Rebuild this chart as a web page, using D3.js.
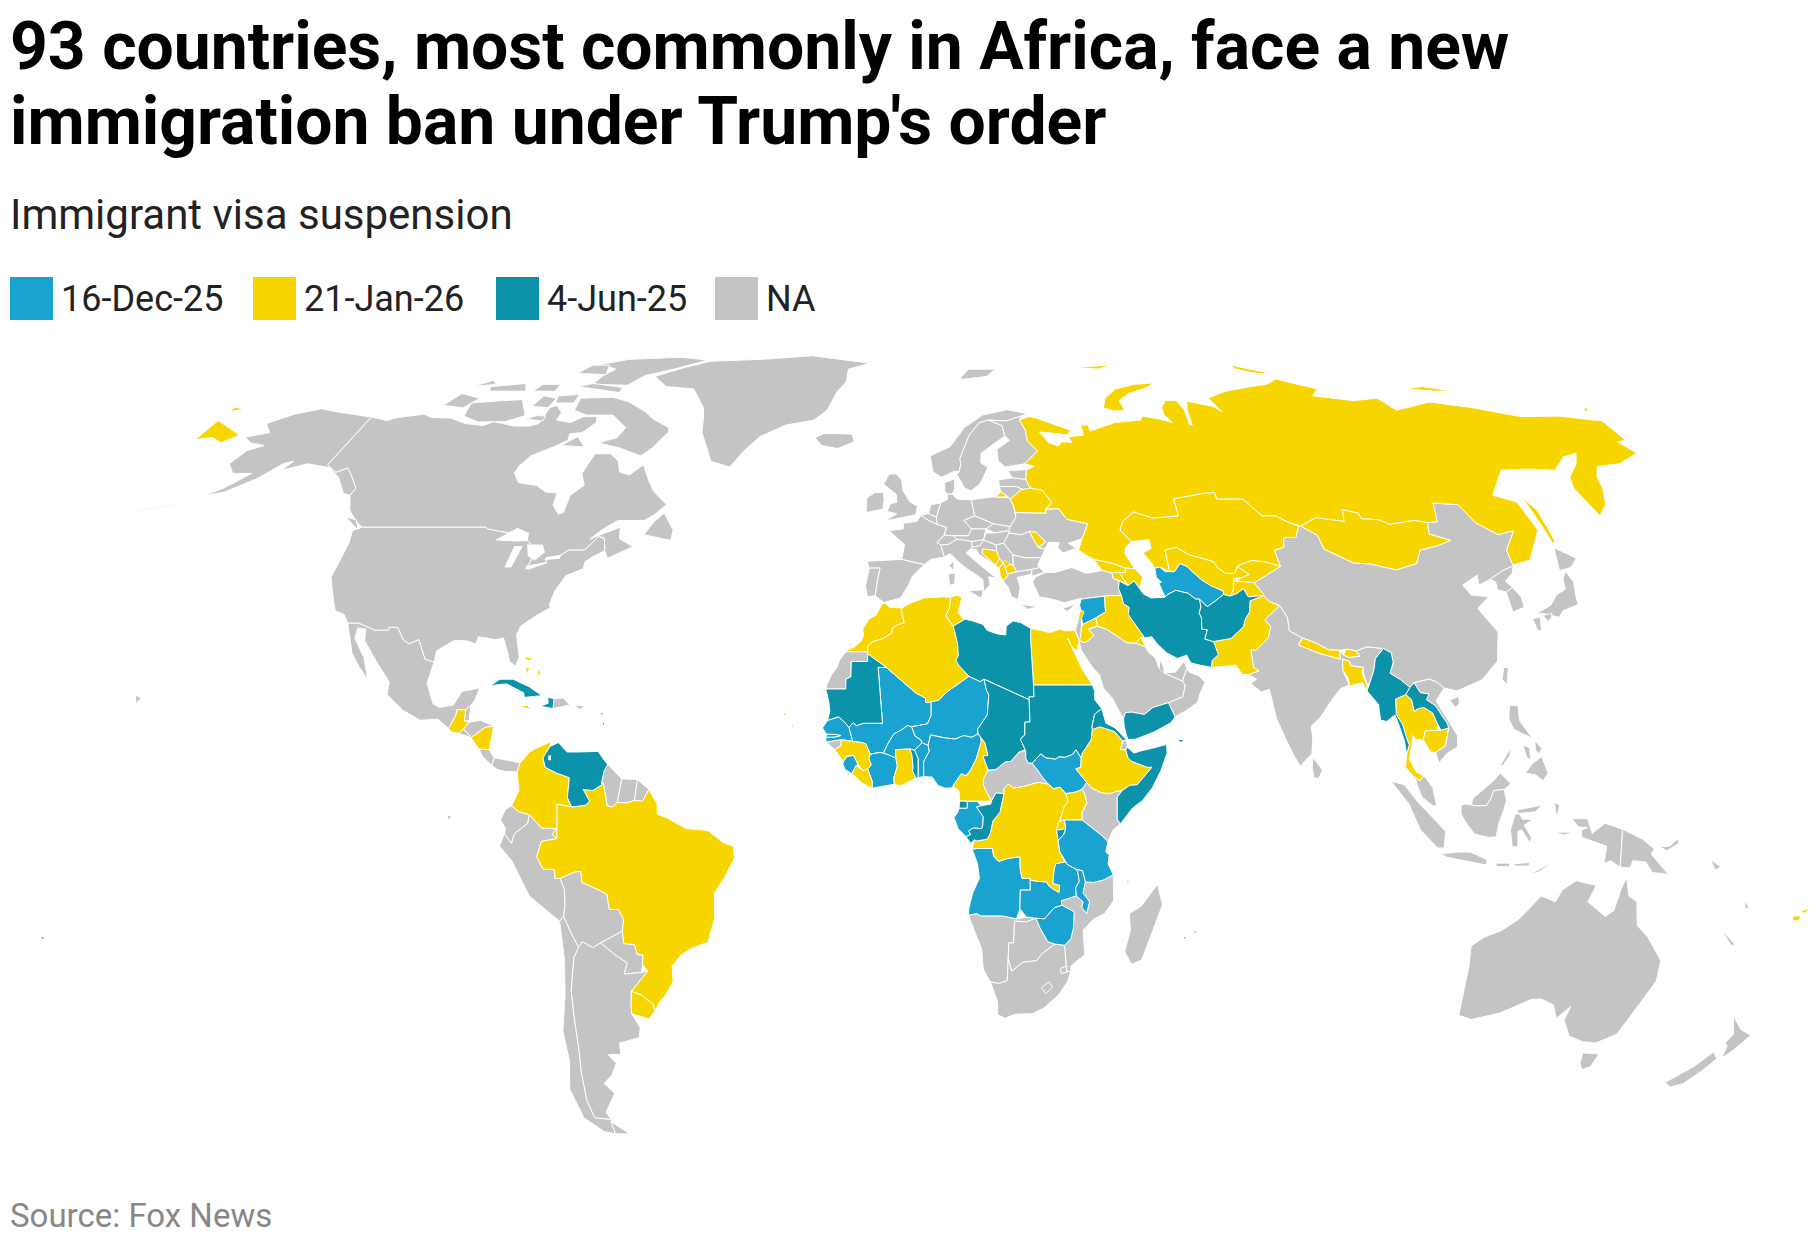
<!DOCTYPE html>
<html>
<head>
<meta charset="utf-8">
<script src="https://cdn.jsdelivr.net/npm/d3@7"></script>
<style>
  body { margin: 0; background: #fff; }
  text { font-family: Roboto, sans-serif; }
</style>
</head>
<body>
<div id="map"></div>
<script>
// legend / categories
var statusKeys = ["16-Dec-25", "21-Jan-26", "4-Jun-25", "NA"];
var statusColors = ["#1AA3D0", "#F7D600", "#0C93A9", "#C4C4C4"];

// outlines are rough [lon, lat] rings, one row per land piece
var shapesDec16 = [
  ["Senegal", [[-17.5,14.7],[-16.5,16],[-14.3,16.6],[-13,15.6],[-12.2,14.8],[-11.4,12.4],[-13.7,12.7],[-16.7,12.3],[-16.8,13.1],[-15,13.15],[-13.8,13.4],[-15,13.6],[-16.6,13.6]]],
  ["Gambia", [[-16.8,13.1],[-15,13.15],[-13.8,13.4],[-15,13.6],[-16.6,13.6]]],
  ["Mali", [[-4.83,25],[1.1,20.7],[3.1,19.8],[3.23,19],[4.25,19.15],[4.25,16.85],[3.5,15.4],[0.3,14.9],[-0.5,15.1],[-2,14.2],[-3.2,13.7],[-4.4,12],[-5.3,10.4],[-6.2,10.5],[-7.9,10.2],[-8.3,11],[-8.8,12],[-9.6,12.2],[-11.4,12.4],[-12.2,14.8],[-11.4,15.6],[-10.7,15.1],[-9.3,15.5],[-5.5,15.5],[-6.5,25]]],
  ["Niger", [[11.97,23.5],[14.2,22.6],[15,23],[15.5,21],[15.9,20.4],[15.5,16.9],[13.5,14.5],[13.6,13.7],[12.3,13.1],[10.7,13.4],[9,12.8],[7,13],[4.1,13.5],[3.6,11.7],[2.4,12.2],[2.1,12.7],[1,13.3],[0.3,14.9],[3.5,15.4],[4.25,16.85],[4.25,19.15],[5.8,19.45],[7.45,20.85]]],
  ["Nigeria", [[2.7,6.4],[4.4,6.3],[5.5,4.9],[7,4.4],[8.5,4.5],[8.5,4.8],[10.2,6.9],[11.1,6.5],[12,7.5],[13.2,9.5],[14.2,12.4],[14.1,13.1],[13.6,13.7],[12.3,13.1],[10.7,13.4],[9,12.8],[7,13],[4.1,13.5],[3.6,11.7],[3.8,10.7],[2.7,9]]],
  ["Benin", [[1.6,6.2],[2.7,6.4],[2.7,9],[3.8,10.7],[3.6,11.7],[2.4,12.2],[0.9,10.9],[1.6,9.5]]],
  ["Burkina Faso", [[-5.3,10.4],[-4.4,12],[-3.2,13.7],[-2,14.2],[-0.5,15.1],[0.3,14.9],[1,13.3],[2.1,12.7],[2.4,12.2],[0.9,10.9],[0,11.1],[-2.9,11],[-2.8,9.5],[-3.7,9.9]]],
  ["Ivory Coast", [[-7.5,4.4],[-3.1,5.1],[-3.2,6.2],[-2.5,8.2],[-2.8,9.5],[-3.7,9.9],[-5.3,10.4],[-6.2,10.5],[-7.9,10.2],[-8.2,9.5],[-7.7,8.4],[-8.4,7.7],[-7.5,5.6]]],
  ["Sierra Leone", [[-13.3,8.5],[-13.2,9],[-12.5,9.9],[-11.2,10],[-10.3,8.5],[-10.7,8.3],[-11.5,6.9],[-12.9,7.6]]],
  ["Gabon", [[11.3,2.2],[13.3,2.2],[14,1.4],[13.2,1.2],[14.5,-0.5],[14.4,-1.9],[14.2,-2.5],[12.5,-2.4],[11.6,-2.9],[12,-3.5],[11.1,-3.9],[9.5,-2.5],[8.7,-0.6],[9.4,0.2],[9.7,1],[11.3,1]]],
  ["Angola", [[12.3,-6],[13.4,-8.5],[13.8,-11],[12.5,-13.5],[11.8,-16],[11.75,-17.3],[13.4,-17],[14.2,-17.4],[18.5,-17.4],[21.4,-17.9],[22,-16.2],[22,-13],[24,-13],[23.9,-11],[22.3,-11],[21.9,-9.5],[21.8,-7.3],[19.4,-7.6],[17.6,-8.1],[16.6,-7.2],[16.3,-5.9],[13.2,-5.9]]],
  ["Zambia", [[22,-13],[22,-16.2],[23.4,-17.6],[25.3,-17.8],[27,-17.9],[28.9,-16],[30.4,-15.6],[30.2,-14.8],[33.2,-14],[33,-12.6],[33.7,-11.5],[33.3,-9.8],[32.9,-9.4],[31.2,-8.6],[30.7,-8.2],[28.9,-8.5],[28.6,-9.6],[28.4,-11.9],[29.8,-12.2],[29.7,-13.4],[28.5,-12.8],[27.7,-12.3],[27.2,-11.6],[25.3,-11.5],[24,-11.3],[23.9,-11],[24,-13]]],
  ["Malawi", [[32.9,-9.4],[34.3,-9.7],[34.9,-11.6],[34.5,-13.5],[35,-14],[35.9,-15],[35.4,-17],[34.4,-16],[34.6,-15],[33.2,-14],[33,-12.6],[33.7,-11.5],[33.3,-9.8]]],
  ["Zimbabwe", [[25.3,-17.8],[27,-17.9],[28.9,-16],[30.4,-15.6],[32.9,-16.7],[32.9,-19.5],[32.5,-21.3],[31.3,-22.4],[29.4,-22.2],[27.9,-21.8],[26.2,-19.5]]],
  ["Tanzania", [[34,-1],[37.7,-3.5],[39.2,-4.7],[38.8,-6.5],[39.5,-7],[39.3,-8.5],[40.4,-10.4],[38.4,-11.3],[36.5,-11.7],[34.9,-11.6],[34.3,-9.7],[32.9,-9.4],[31.2,-8.6],[29.6,-6.3],[29.3,-4.5],[30.4,-3.5],[30.8,-2.4],[30.5,-1]]],
  ["South Sudan", [[34,9.6],[33,11],[32.3,10.2],[30.8,9.7],[29.6,9.8],[28.9,9.4],[27,9.6],[26,10.3],[24.5,8.9],[24.2,8.7],[25.3,7.5],[26.4,6.1],[27.4,5.1],[28.4,4.3],[29.7,4.6],[30.8,3.5],[31.9,3.6],[33,3.8],[34,4.2],[35,5.4],[32.9,7.7],[33.9,8]]],
  ["Syria", [[35.7,35.6],[36.2,36.6],[38,36.8],[41.2,37.1],[41,34.4],[38.8,33.4],[36,32.3],[35.8,33.3],[36.5,34.5],[35.9,34.7]]],
  ["Turkmenistan", [[53.9,36.9],[54.7,37.4],[56.5,38.1],[59,37.6],[60.4,36.6],[61.2,36.6],[62.5,35.3],[64.5,36.3],[66.5,37.4],[66.6,38],[64.2,38.9],[62.5,39.9],[61,41.2],[60,42.2],[58.6,42.7],[57,41.3],[55.9,41.3],[55,41.3],[54,42.1],[52.9,41.9],[52.9,40.3],[53.8,39.5],[53.2,39.3],[53.9,37.3]]],
  ["Dominica", [[-61.5,15.6],[-61.2,15.6],[-61.3,15.2]]],
  ["Antigua", [[-62,17.2],[-61.6,17.2],[-61.8,16.9]]],
  ["Tonga", [[-175.4,-21],[-175,-21],[-175.2,-21.4]]]
];

var shapesJan21 = [
  ["Morocco", [[-5.9,35.8],[-5.3,35.9],[-4.3,35.2],[-2.2,35.1],[-1.7,35.1],[-1.8,34.5],[-1.2,32.6],[-2.9,32.1],[-3.7,31.6],[-3.7,30.9],[-5.5,29.9],[-7.6,29.4],[-8.67,28.7],[-8.67,27.67],[-13.2,27.67],[-12.9,27.95],[-11.4,28.5],[-10.1,29.4],[-9.6,30.4],[-9.8,31.5],[-8.6,33.2],[-7.1,33.9],[-6.2,35.2]]],
  ["Algeria", [[-8.67,27.3],[-8.67,28.7],[-7.6,29.4],[-5.5,29.9],[-3.7,30.9],[-3.7,31.6],[-2.9,32.1],[-1.2,32.6],[-1.8,34.5],[-1.7,35.1],[0,35.9],[3,36.8],[7,37],[8.6,36.9],[8.3,35],[7.5,33.8],[9,32],[9.5,30.2],[9.8,29],[9.9,27],[9.4,26.2],[10,25.3],[11.97,23.5],[7.45,20.85],[5.8,19.45],[4.25,19.15],[3.23,19],[3.1,19.8],[1.1,20.7],[-4.83,25]]],
  ["Tunisia", [[8.6,36.9],[10,37.3],[11,36.9],[10.5,35.5],[10.1,34.3],[11.1,33.2],[11.5,33.2],[9,32],[7.5,33.8],[8.3,35]]],
  ["Egypt", [[25.1,31.6],[27,31.3],[29,30.9],[31,31.5],[32.3,31.2],[34.2,31.3],[34.9,29.5],[34.3,27.8],[33.2,28.6],[32.6,29.9],[33.6,27.8],[34.9,25],[35.5,24],[36.9,22],[31.5,22],[25,22],[24.9,30]]],
  ["Guinea", [[-15,11],[-13.7,9.5],[-13.2,9],[-12.5,9.9],[-11.2,10],[-10.3,8.5],[-9.3,7.4],[-8.4,7.7],[-7.7,8.4],[-8.2,9.5],[-7.9,10.2],[-8.3,11],[-8.8,12],[-9.6,12.2],[-11.4,12.4],[-13.7,12.7],[-13.7,11.7]]],
  ["Liberia", [[-11.5,6.9],[-9.5,5.3],[-7.5,4.4],[-7.5,5.6],[-8.4,7.7],[-9.3,7.4],[-10.7,8.3]]],
  ["Ghana", [[-3.1,5.1],[-2,4.8],[1.2,6.1],[0.5,7.4],[0.6,8],[0.4,10],[0,11.1],[-2.9,11],[-2.8,9.5],[-2.5,8.2],[-3.2,6.2]]],
  ["Cameroon", [[8.5,4.8],[9.7,3.9],[9.8,2.2],[11.3,2.2],[13.3,2.2],[16.1,2.2],[15.1,3.8],[14.5,5],[14.6,6.2],[15.5,7.5],[14.5,9.9],[15.5,10],[14.9,12.2],[14.1,13.1],[14.2,12.4],[13.2,9.5],[12,7.5],[11.1,6.5],[10.2,6.9]]],
  ["DR Congo", [[12.3,-6],[13.2,-5.9],[16.3,-5.9],[16.6,-7.2],[17.6,-8.1],[19.4,-7.6],[21.8,-7.3],[21.9,-9.5],[22.3,-11],[23.9,-11],[24,-11.3],[25.3,-11.5],[27.2,-11.6],[27.7,-12.3],[28.5,-12.8],[29.7,-13.4],[29.8,-12.2],[28.4,-11.9],[28.6,-9.6],[28.9,-8.5],[30.7,-8.2],[29.6,-6.3],[29.3,-4.5],[29,-2.7],[29.3,-1.6],[29.6,-1.3],[30.5,1.2],[31.3,2.2],[30.8,3.5],[29.7,4.6],[28.4,4.3],[27.4,5.1],[25.3,5.4],[22.9,4.8],[20.5,4.4],[19.5,5.1],[18.6,4.3],[18.6,3.5],[17.8,0.3],[16.4,-1.2],[15.9,-3.3],[15.3,-4.3],[14,-4.5],[13.1,-4.6],[12.8,-4.4]]],
  ["Uganda", [[34,-1],[34,0.2],[35,1.9],[34.5,3.6],[34,4.2],[33,3.8],[31.9,3.6],[30.8,3.5],[31.3,2.2],[30.5,1.2],[29.6,-1.3],[30.5,-1]]],
  ["Rwanda", [[29.6,-1.3],[30.5,-1],[30.8,-2.4],[29.9,-2.7],[29,-2.7],[29.3,-1.6]]],
  ["Ethiopia", [[36.4,14.4],[37.9,14.9],[39,14.6],[40.8,14.1],[42.4,12.5],[41.8,11],[42.9,11],[43.3,9.6],[44,9],[47,8],[48,8],[45,5],[43.5,4.9],[42,4],[41,3.9],[39.5,3.5],[38,3.6],[36,4.4],[35,5.4],[32.9,7.7],[33.9,8],[34,9.6],[34.3,10.5],[35,11.3],[36.1,12.7]]],
  ["Cape Verde", [[-25.3,17.2],[-24.9,17.1],[-25.1,16.8]]],
  ["Cape Verde", [[-23.7,15.3],[-23.4,15.2],[-23.5,14.9]]],
  ["Iraq", [[38.8,33.4],[41,34.4],[41.2,37.1],[42.4,37.2],[44.8,37.2],[45,35.8],[46.1,35.2],[45.7,34],[47.8,31],[48.5,30],[47.7,30.1],[46.5,29.1],[44.7,29.2],[41,31.4],[39,32]]],
  ["Kuwait", [[46.5,29.1],[47.7,30.1],[48.1,29.3],[48.4,28.5]]],
  ["Jordan", [[35,29.5],[36.1,29.2],[37.5,30],[38,30.5],[37,31.5],[39,32],[38.8,33.4],[36,32.3],[35.6,31.8],[35.5,31]]],
  ["Lebanon", [[35.1,33.1],[35.8,33.3],[36.5,34.5],[35.9,34.7]]],
  ["Pakistan", [[60.9,29.8],[62.6,29.4],[66.3,29.9],[69.3,31.9],[70,33.2],[71.2,34.4],[71.8,36.3],[74.9,37.2],[75.8,36.2],[77.8,35.5],[74,33],[75,32],[74.5,31],[74,30],[71,27.9],[70,28],[70,25],[71,24.4],[68.8,23.8],[67.5,23.8],[66.5,25.4],[64.5,25.2],[61.4,25],[61.8,26.2],[63.2,27.2]]],
  ["Nepal", [[80,28.8],[81.1,30],[83.5,29.2],[86,28],[88.2,27.9],[88,26.4],[83.9,27.4]]],
  ["Bhutan", [[88.8,27.1],[89.8,26.7],[92.1,26.9],[91.6,27.8],[89.6,28.1]]],
  ["Bangladesh", [[88.5,26.4],[89.8,26],[89.8,25.3],[92.4,25],[91.9,24.2],[92.5,22],[92.3,20.8],[91.7,22.4],[90.5,22.2],[89,21.8],[88.9,23.2],[88.1,24.5]]],
  ["Thailand", [[97.5,17],[97.8,19.6],[100,20.4],[101,19.5],[101.2,17.5],[102,18],[103.2,18.2],[104.8,17.3],[105.5,15.4],[105.5,14.3],[102.9,14.2],[102.3,12.7],[100.9,12.7],[100.3,13.4],[99.9,11.8],[99.2,9.3],[100.4,7.2],[101.8,6.5],[101,5.7],[99.7,6.5],[98.3,8],[98.7,10.2],[99.4,11.8],[99,13],[98.5,15.3]]],
  ["Cambodia", [[102.3,12.7],[102.9,14.2],[105.5,14.3],[106,14.3],[107.6,14.7],[106.6,11.7],[104.5,10.5],[103.5,10.6]]],
  ["Russia", [[27.8,60.5],[31.5,62.9],[29.5,64.9],[29.5,67],[28.5,69],[31,69.7],[33,69.4],[41,67],[40,66],[35,66.5],[33,66.6],[34.8,64.5],[37,63.9],[38,64.7],[40.5,64.6],[40,65.7],[44,66],[44,68],[46,68],[46,66.8],[53,68.5],[60,69],[61,69.8],[65,69.2],[68,68.5],[66.8,70],[67,71.5],[69,73],[72,73],[72.8,71],[72.2,68.2],[72.8,68],[73.5,71],[74.8,72.9],[78,72.3],[81,71.8],[82.5,70.7],[81,73.5],[87,75],[95,76],[100,76.5],[104,77.7],[108,76.7],[113,75.5],[110,74],[113,73.7],[120,73],[127,73.5],[129,71],[140,72.7],[150,71.5],[160,69.7],[170,69.8],[178,69],[179.9,68.9],[179.9,65],[177.5,64.7],[179,62.5],[172,60.5],[166,60],[163.5,58],[162.5,56],[160,53],[156.7,51],[155.7,56],[157,58],[161.5,60.5],[164,62.5],[160,61.8],[155,59.3],[149,59.5],[142,59.3],[135.5,54.7],[140,53.5],[140.5,48.5],[135,43.3],[131,42.5],[130.7,42.3],[131,45],[135,48.4],[131,47.7],[127.5,49.8],[126,53],[120.5,53.3],[119,50],[116.7,49.8],[113.8,50.2],[108,49.5],[106,50.3],[102.3,50.5],[102,51.5],[98.9,52.1],[98,50],[92,50.7],[87.8,49.2],[85,50],[83,51],[80,51],[77,54],[71,54],[71,55.2],[68,55],[61,54],[61,52],[61,51],[55,50.6],[51,51.7],[48,50],[47,48.5],[49,46.5],[47.5,45.5],[47,44.5],[48.6,41.8],[46.5,41.9],[44,42.7],[40,43.4],[37,45],[38.2,47],[40,49.6],[35.5,50.4],[34,52.3],[31,52.2],[32.7,53.4],[30.9,55.6],[28.2,56],[27.5,57.6],[28,59.4],[30,60]]],
  ["Russia", [[-179.9,68.9],[-175,67.5],[-170,66],[-172.5,64.5],[-176,65.5],[-178,65.4],[-179.9,65]]],
  ["Russia", [[-179.9,71.5],[-177.5,71.2],[-179.9,70.9]]],
  ["Russia", [[178.8,71],[179.9,70.9],[179.9,71.5]]],
  ["Russia", [[19.8,54.4],[22.8,54.4],[21.2,55.3]]],
  ["Russia", [[142,54.3],[143.3,52],[143,49],[142.8,46.7],[142,46],[142,49]]],
  ["Russia", [[51.5,71.5],[53,73.5],[57,75.5],[63,76.5],[68.5,76.8],[66,75.8],[60,74.5],[56.5,73],[57,71],[54,70.8]]],
  ["Russia", [[48,80.5],[60,81],[55,80]]],
  ["Russia", [[95,80],[100,79],[105,78.8],[95,81]]],
  ["Russia", [[137,75.5],[145,75],[150,75],[143,76]]],
  ["Kazakhstan", [[48,50],[51,51.7],[55,50.6],[61,51],[61,52],[61,54],[68,55],[71,55.2],[71,54],[77,54],[80,51],[83,51],[85,50],[87.3,49.2],[85.7,47.2],[83,47.2],[82.3,45.5],[80,45],[80.2,42.2],[77,43],[74.3,43.2],[71,42.3],[70,41],[68,41],[66.5,42],[66,43],[64,43.5],[61,44.2],[58.6,45.5],[56,45],[56,41.3],[54,42.1],[52.9,41.9],[52.5,42.8],[51,44.5],[53,45.3],[53,46.8],[49,46.5],[47,48.5]]],
  ["Uzbekistan", [[56,41.3],[56,45],[58.6,45.5],[61,44.2],[64,43.5],[66,43],[66.5,42],[68,41],[70,41],[70.9,42.2],[73,40.8],[71,40.2],[69.5,40.1],[68.8,38.2],[67.8,37.1],[66.5,37.4],[66.6,38],[64.2,38.9],[62.5,39.9],[61,41.2],[60,42.2],[58.6,42.7],[57,41.3]]],
  ["Kyrgyzstan", [[70.9,42.2],[71,42.3],[74.3,43.2],[77,43],[80.2,42.2],[76,40.4],[73.6,39.4],[69.5,39.7],[71,40.2],[73,40.8]]],
  ["Tajikistan", [[67.8,37.1],[68.8,38.2],[69.5,40.1],[71,40.2],[69.5,39.7],[73.6,39.4],[75,37.4],[74.9,37.2],[71.6,37],[71,38.4],[69.5,37.6]]],
  ["Mongolia", [[87.8,49.2],[92,50.7],[98,50],[98.9,52.1],[102,51.5],[102.3,50.5],[106,50.3],[108,49.5],[113.8,50.2],[116.7,49.8],[115.7,47.8],[119.8,46.7],[116,45.7],[112,45],[110,42.7],[105,41.6],[100,42.6],[96.3,42.8],[91,45.2],[90.7,47.6]]],
  ["Georgia", [[40,43.4],[41.5,41.5],[43.5,41.1],[46.5,41.1],[46.5,41.9],[44,42.7]]],
  ["Armenia", [[43.5,41.1],[45,41.2],[46.5,39],[45.5,39.5],[43.6,40.1]]],
  ["Azerbaijan", [[45,41.2],[46.5,41.1],[46.5,41.9],[48.6,41.8],[50,40.4],[48.9,38.4],[48,39.7],[46.5,38.9],[46.5,39]]],
  ["Belarus", [[23.8,52.7],[23.2,54],[26,55.7],[28.2,56],[30.9,55.6],[32.7,53.4],[31,52.2],[31,51.5],[24,51.6]]],
  ["Moldova", [[26.6,48.3],[28.2,48.1],[30,46.4],[28.2,45.5]]],
  ["Bosnia", [[16,45.2],[19,44.9],[19.5,43.5],[18.5,42.4],[15.8,44.5]]],
  ["Montenegro", [[18.5,42.4],[19.5,43.5],[20.3,42.8],[19.3,41.9]]],
  ["Kosovo", [[20.3,42.8],[20.6,43.2],[21.7,42.6],[20.6,41.9]]],
  ["Albania", [[19.3,41.9],[20.3,42.8],[20.6,41.9],[21,40.6],[20,39.7],[19.4,40.6]]],
  ["North Macedonia", [[20.6,41.9],[21.7,42.6],[22.4,42.3],[23,41.3],[21,40.9]]],
  ["Colombia", [[-77.4,8.7],[-75.6,10.6],[-74.2,11.3],[-71.4,12.4],[-71.7,11.5],[-72.9,9.6],[-72.4,8],[-70.1,7],[-67.5,6.2],[-67.8,2.8],[-67,1.2],[-69.8,1.7],[-69.9,-4.2],[-70.8,-3.5],[-70,-2.5],[-72.9,-2.4],[-75.3,-0.1],[-77.4,0.4],[-78.8,1.4],[-77.4,4],[-77.9,7.2]]],
  ["Brazil", [[-51.7,4.2],[-50,1.7],[-50,0],[-48,-0.7],[-44.3,-2.5],[-40,-2.8],[-37,-4.9],[-35,-5.5],[-34.8,-7.5],[-37,-11],[-39,-13.5],[-39.2,-17.8],[-40.9,-21.9],[-44.5,-23],[-46.5,-24],[-48.6,-26],[-48.7,-28.5],[-50.3,-30.5],[-52.2,-32.2],[-53.4,-33.7],[-53.4,-32.5],[-55.6,-30.9],[-57.6,-30.2],[-53.7,-26.8],[-54.6,-25.6],[-54.3,-24],[-55.4,-24],[-55.8,-22.3],[-57.9,-22.1],[-58,-20],[-57.5,-18],[-58.4,-16.3],[-60.2,-16.3],[-60.5,-13.7],[-62,-13],[-65.3,-11.7],[-65.4,-9.8],[-66.6,-9.9],[-69.6,-11],[-70.6,-11],[-70.6,-9.5],[-72.9,-9.4],[-74,-7.3],[-73,-4.7],[-69.9,-4.2],[-69.8,1.7],[-67,1.2],[-64.2,1.5],[-63.4,2.2],[-64.7,4.2],[-62.8,4],[-60.7,5.2],[-59.9,1.4],[-58.8,1.2],[-57.9,2],[-56,1.9],[-54.5,2.3],[-52.9,2.2]]],
  ["Uruguay", [[-57.6,-30.2],[-55.6,-30.9],[-53.4,-32.5],[-53.4,-33.7],[-54.9,-34.9],[-58.3,-34],[-58,-32]]],
  ["Guatemala", [[-92.2,14.6],[-91,16.9],[-91,17.8],[-89.2,17.8],[-89.2,15.9],[-88.2,15.7],[-89.2,14.5],[-90.1,13.8],[-91.5,14]]],
  ["Nicaragua", [[-87.5,13],[-84.9,14.8],[-83.2,15],[-83.7,11],[-85.7,11.1]]],
  ["Jamaica", [[-78.3,18.3],[-76.3,18],[-77,18.5]]],
  ["Bahamas", [[-78.9,26.7],[-77.2,26.6],[-77.9,26.2]]],
  ["Bahamas", [[-78.2,25],[-77.6,24.8],[-77.9,24]]],
  ["Bahamas", [[-75.6,24.5],[-75.2,24.2],[-75.6,23.5]]],
  ["Fiji", [[177.3,-17.5],[178.6,-17.5],[178.5,-18.2],[177.4,-18.1]]],
  ["Fiji", [[178.6,-16.7],[179.9,-16.2],[179.4,-16.9]]]
];

var shapesJun4 = [
  ["Mauritania", [[-8.67,27.3],[-4.83,25],[-6.5,25],[-5.5,15.5],[-9.3,15.5],[-10.7,15.1],[-11.4,15.6],[-12.2,14.8],[-13,15.6],[-14.3,16.6],[-16.5,16],[-16.1,17.5],[-16.3,19],[-16.9,21],[-17.05,21],[-16.9,21.33],[-13,21.33],[-13,23],[-12,23.4],[-12,26],[-8.67,26]]],
  ["Libya", [[9.5,30.2],[9,32],[11.5,33.2],[13,32.9],[15.2,32.3],[16,31.3],[18,30.7],[19.8,30.5],[20,32],[21.5,32.9],[23.1,32.6],[25.1,31.6],[24.9,30],[25,22],[25,20],[24,20],[24,19.5],[15,23],[14.2,22.6],[11.97,23.5],[10,25.3],[9.4,26.2],[9.9,27],[9.8,29]]],
  ["Chad", [[15,23],[24,19.5],[24,15.7],[23,15.7],[22.9,13.5],[22,12.8],[22.9,11],[21.7,10.6],[20,9],[18.9,8.9],[17,7.6],[15.5,7.5],[14.5,9.9],[15.5,10],[14.9,12.2],[14.1,13.1],[13.6,13.7],[13.5,14.5],[15.5,16.9],[15.9,20.4],[15.5,21]]],
  ["Sudan", [[24,20],[25,20],[25,22],[31.5,22],[36.9,22],[37.3,21],[37.2,19.5],[38.5,18],[37,17],[36.4,15],[36.4,14.4],[36.1,12.7],[35,11.3],[34.3,10.5],[34,9.6],[33,11],[32.3,10.2],[30.8,9.7],[29.6,9.8],[28.9,9.4],[27,9.6],[26,10.3],[24.5,8.9],[24.2,8.7],[23.5,8.7],[23,9.5],[23,10.7],[22.9,11],[22,12.8],[22.9,13.5],[23,15.7],[24,15.7]]],
  ["Eritrea", [[36.4,14.4],[36.4,15],[37,17],[38.5,18],[39.2,15.5],[41,14.7],[43.1,12.7],[42.4,12.5],[40.8,14.1],[39,14.6],[37.9,14.9]]],
  ["Somalia", [[42.9,11],[43.3,11.4],[44.5,10.4],[46,10.8],[48,11.2],[51.1,11.9],[51.1,10.4],[49.8,7.5],[48,4.5],[46,2.3],[44,1],[41.6,-1.7],[41,-0.9],[41,2.9],[42,4],[43.5,4.9],[45,5],[48,8],[47,8],[44,9],[43.3,9.6]]],
  ["Togo", [[1.2,6.1],[1.6,6.2],[1.6,9.5],[0.9,10.9],[0,11.1],[0.4,10],[0.6,8],[0.5,7.4]]],
  ["Equatorial Guinea", [[9.8,2.2],[11.3,2.2],[11.3,1],[9.7,1]]],
  ["Congo", [[18.6,3.5],[17,3.6],[16.1,2.2],[16,1.7],[14,1.4],[13.2,1.2],[14.5,-0.5],[14.4,-1.9],[14.2,-2.5],[12.5,-2.4],[11.6,-2.9],[12,-3.5],[11.1,-3.9],[12,-5],[12.8,-4.4],[13.1,-4.6],[14,-4.5],[15.3,-4.3],[15.9,-3.3],[16.4,-1.2],[17.8,0.3]]],
  ["Burundi", [[29,-2.7],[29.9,-2.7],[30.8,-2.4],[30.4,-3.5],[29.3,-4.5]]],
  ["Yemen", [[42.8,16.4],[43.2,17.3],[44.5,17.4],[47,17],[48.8,18.2],[52,19],[53.1,16.6],[52.2,15.6],[48.7,14],[45,12.8],[43.5,12.7],[43.2,13.3],[42.8,15]]],
  ["Yemen", [[53.4,12.7],[54.5,12.6],[54,12.3]]],
  ["Iran", [[44.8,39.7],[46.5,38.9],[48,39.7],[48.9,38.4],[49.5,37.5],[51,36.8],[53.9,36.9],[54.7,37.4],[56.5,38.1],[59,37.6],[60.4,36.6],[61.2,36.6],[61.2,35.3],[60.6,34.2],[60.9,33.5],[60.6,31.5],[61.7,31.4],[60.9,29.8],[62.6,29.4],[63.2,27.2],[61.8,26.2],[61.4,25],[58.5,25.5],[57.3,25.8],[56.7,27.1],[54.7,26.5],[52.6,27.5],[50.9,29],[50,30.2],[48.5,30],[47.8,31],[45.7,34],[46.1,35.2],[45,35.8],[44.8,37.2],[44.4,38.4]]],
  ["Afghanistan", [[60.6,31.5],[60.9,33.5],[60.6,34.2],[61.2,35.3],[61.2,36.6],[62.5,35.3],[64.5,36.3],[66.5,37.4],[67.8,37.1],[69.5,37.6],[71,38.4],[71.6,37],[74.9,37.2],[71.8,36.3],[71.2,34.4],[70,33.2],[69.3,31.9],[66.3,29.9],[62.6,29.4],[60.9,29.8],[61.7,31.4]]],
  ["Myanmar", [[92.3,21],[93.2,22.5],[94.4,24.5],[95.2,26.5],[97.3,28.2],[98.7,27.5],[98.7,25.9],[97.6,24],[99.5,22.9],[101.1,21.6],[100,20.4],[97.8,19.6],[97.5,17],[98.5,15.3],[99,13],[99.4,11.8],[98.7,10.2],[98.5,12.5],[97.7,15.4],[97.2,16.9],[95.4,15.8],[94.2,16],[94.2,18.7]]],
  ["Laos", [[100,20.4],[101.1,21.6],[102.1,22.4],[103,20.7],[104.7,20.5],[104,19.5],[105.6,18.5],[107.5,15.4],[107.6,14.7],[106,14.3],[105.5,15.4],[104.8,17.3],[103.2,18.2],[102,18],[101.2,17.5],[101,19.5]]],
  ["Cuba", [[-84.9,21.9],[-83.2,23],[-80.5,23],[-77,21.7],[-74.2,20.2],[-77.7,19.9],[-78,20.7],[-81.7,22.2]]],
  ["Haiti", [[-74.4,18.4],[-71.7,18],[-71.7,19.7],[-73,19.9],[-72.8,18.9]]],
  ["Venezuela", [[-71.7,11.5],[-71.3,11.7],[-70,12.2],[-68.2,10.6],[-66,10.6],[-62,10.7],[-60.9,9.4],[-60,8.5],[-60.7,7.2],[-61.1,5.2],[-60.7,5.2],[-62.8,4],[-64.7,4.2],[-63.4,2.2],[-64.2,1.5],[-66.9,1.2],[-67.8,2.8],[-67.5,6.2],[-70.1,7],[-72.4,8],[-72.9,9.6]]]
];

var shapesNA = [
  ["Canada", [[-141,69.6],[-136,68.9],[-134,69.5],[-128,70.2],[-125,69.5],[-120,69.4],[-115,68.3],[-110,67.9],[-108,68.7],[-102,67.8],[-98,67.8],[-96,68.3],[-96,71.5],[-94.5,72],[-92,70.5],[-92,69],[-88,68.5],[-85.5,69.7],[-82,69.7],[-81.3,68.5],[-83.5,66.5],[-86.5,66.3],[-86,65],[-88,64],[-93,62],[-94.5,60],[-94.7,58.8],[-92.5,57],[-88,56.5],[-85,55.3],[-82.3,55.1],[-82,52.9],[-80,51.3],[-79,51.6],[-79,54.7],[-76.7,56.5],[-78.5,58.7],[-77.5,62.4],[-73.7,62.4],[-71,61],[-69.6,59],[-67,58.4],[-65.3,59.7],[-64.5,60.3],[-62,57.5],[-60,55.5],[-56,53],[-58,51.3],[-60,50.2],[-66,50.2],[-69,48.5],[-71,46.9],[-69.5,47.5],[-65,49],[-64.5,47],[-61,45.6],[-66,43.6],[-67,44.9],[-67.8,47],[-69.2,47.4],[-70.3,46.2],[-71.5,45],[-75,45],[-76.5,44],[-79.2,43.4],[-79,42.8],[-82.5,41.7],[-83.1,42],[-82.5,43],[-82.5,45.3],[-84.5,46.5],[-88.4,48.3],[-89.6,48],[-92,48.3],[-94.6,48.7],[-95.2,49],[-123,49],[-125,50],[-128,52],[-130.2,54.7],[-130,56],[-133.5,58.5],[-135.5,59.7],[-137.5,58.9],[-141,60.3]]],
  ["Baffin", [[-61.5,66.7],[-64,63.5],[-66,62],[-72,63.5],[-78,64.5],[-74,65.5],[-73,67.5],[-78,70],[-85,70],[-89,71],[-89.5,73.5],[-81,73.7],[-76,72.8],[-70,70.7],[-67,69.2],[-62,67.5]]],
  ["Victoria I.", [[-117,69.8],[-112,68.6],[-105,68.7],[-101,69.9],[-105,73.2],[-110,73],[-118,72.5]]],
  ["Banks I.", [[-125,72],[-119,71.5],[-117,73.5],[-123,74.5]]],
  ["Ellesmere", [[-89,76.5],[-79,76.3],[-76,78.5],[-69,80],[-61,82.3],[-70,83.1],[-85,82.5],[-92,81.2],[-86,80],[-88,78.5]]],
  ["Devon I.", [[-92.5,76],[-80,74.7],[-80,75.8],[-89,76.7]]],
  ["Melville I.", [[-116,75],[-106,75],[-108,76.7],[-117,76]]],
  ["Axel Heiberg", [[-96,79],[-87.5,78.7],[-89,81],[-94,81]]],
  ["Prince of Wales I.", [[-101,71.8],[-96.5,71.5],[-96,73.5],[-100,74]]],
  ["Somerset I.", [[-95.5,72.5],[-90.5,72.5],[-90.5,74.3],[-96,74]]],
  ["King William I.", [[-100,69.2],[-95.5,68.8],[-95.5,69.8],[-98,69.9]]],
  ["Bathurst I.", [[-104,75],[-98,75],[-98,76.5],[-103,76.5]]],
  ["Prince Patrick I.", [[-122,76],[-116,76.5],[-118,77.4]]],
  ["Southampton I.", [[-87,64],[-81,63.7],[-84,65.7]]],
  ["Newfoundland", [[-59.3,47.7],[-53,46.7],[-53,48.5],[-56,51.5],[-57.7,50]]],
  ["Vancouver I.", [[-128,50.8],[-123.5,48.5],[-125.2,50.3]]],
  ["USA", [[-124.7,48.4],[-123,49],[-95.2,49],[-94.6,48.7],[-92,48.3],[-89.6,48],[-88.4,48.3],[-84.5,46.5],[-82.5,45.3],[-82.5,43],[-83.1,42],[-82.5,41.7],[-79,42.8],[-79.2,43.4],[-76.5,44],[-75,45],[-71.5,45],[-70.3,46.2],[-69.2,47.4],[-67.8,47],[-67,44.9],[-69,44],[-70.7,43],[-70.6,41.8],[-74,40.6],[-75.5,38],[-76,35.5],[-75.5,35.2],[-78,33.9],[-81,32],[-81.4,30.5],[-80,26.8],[-80.4,25.2],[-81.8,26],[-82.8,28],[-84,30],[-85.5,29.7],[-89.2,30.2],[-89.4,29],[-91.5,29.5],[-94,29.6],[-97.2,27.8],[-97.2,25.9],[-99.2,26.4],[-101.4,29.7],[-103.2,29],[-104.5,29.6],[-106.5,31.8],[-108.2,31.8],[-108.2,31.3],[-111,31.3],[-114.8,32.5],[-117.1,32.5],[-118.5,34],[-120.6,34.6],[-122.5,37.5],[-124.3,40.3],[-124.1,43],[-124,46.3]]],
  ["Alaska", [[-141,69.6],[-141,60.3],[-137.5,58.9],[-135.5,59.7],[-133.5,58.5],[-130,56],[-130.2,54.7],[-132,55],[-136,58],[-140,59.8],[-146,60.5],[-151,59.3],[-150,61],[-152,60.5],[-155,57.8],[-160,55.3],[-164,54.6],[-161,56],[-157.5,58.7],[-162,58.7],[-165,60.5],[-164,63],[-161,64],[-165,64.5],[-168,65.6],[-163,66.5],[-166.5,68.3],[-162,70.2],[-156.5,71.3],[-150,70.5]]],
  ["Aleutians", [[-170,53],[-165,54.2],[-170,52.8],[-176,51.9],[-178,51.7],[-176,52.1]]],
  ["Hawaii", [[-156,20.2],[-155,19.7],[-155.7,19]]],
  ["Greenland", [[-73,78.3],[-68,76],[-60,75.5],[-55,71.5],[-54,69.5],[-53,66.5],[-50,63],[-48.5,61],[-43.5,59.9],[-41,63],[-38,65.7],[-32,68],[-25,69],[-22,71],[-20,75],[-18,77],[-18,80],[-12,81.5],[-30,83.5],[-45,82.5],[-60,82],[-66,80.5]]],
  ["Iceland", [[-24,65.5],[-22,64],[-18,63.4],[-14,64.7],[-14.7,66.2],[-18,66.3],[-22,66.3]]],
  ["Mexico", [[-117.1,32.5],[-114.8,32.5],[-111,31.3],[-108.2,31.3],[-108.2,31.8],[-106.5,31.8],[-104.5,29.6],[-103.2,29],[-101.4,29.7],[-99.2,26.4],[-97.2,25.9],[-97.8,22.3],[-95.9,18.8],[-94.5,18.2],[-91.8,18.6],[-90.5,20.9],[-87,21.5],[-87.6,19.5],[-88.3,18.5],[-89.2,17.8],[-91,17.8],[-91,16.9],[-92.2,14.6],[-94.5,16.2],[-98,16],[-101.8,17.7],[-105.5,20.4],[-105.5,22.5],[-109,26],[-112.5,29.5],[-113,31.5],[-114.7,31.7],[-114.7,30],[-111.7,26.6],[-110,23],[-112.2,25],[-114.5,27.5],[-114.7,28],[-116,30.5]]],
  ["Belize", [[-89.2,17.8],[-88.3,18.5],[-88.2,15.9],[-89.2,15.9]]],
  ["Honduras", [[-88.2,15.7],[-86,16],[-83.2,15],[-84.9,14.8],[-87.5,13],[-87.8,13.4],[-89.2,14.5]]],
  ["El Salvador", [[-90.1,13.8],[-89.2,14.5],[-87.8,13.4],[-88,13.2]]],
  ["Costa Rica", [[-85.7,11.1],[-83.7,11],[-82.6,9.6],[-83,8.3],[-85,9.9]]],
  ["Panama", [[-83,8.3],[-82.6,9.6],[-80,9.2],[-77.4,8.7],[-77.9,7.2],[-80.4,7.3],[-81.8,7.6]]],
  ["Dominican Rep.", [[-71.7,18],[-68.4,18.6],[-69.9,19.8],[-71.7,19.7]]],
  ["Puerto Rico", [[-67.2,18.5],[-65.6,18.4],[-66.2,17.9]]],
  ["Guyana", [[-60,8.5],[-57.1,6],[-57.9,2],[-58.8,1.2],[-59.9,1.4],[-60.7,5.2],[-61.1,5.2],[-60.7,7.2]]],
  ["Suriname", [[-57.1,6],[-54,5.9],[-54.5,2.3],[-56,1.9],[-57.9,2]]],
  ["French Guiana", [[-54,5.9],[-51.7,4.2],[-52.9,2.2],[-54.5,2.3]]],
  ["Ecuador", [[-78.8,1.4],[-77.4,0.4],[-75.3,-0.1],[-75.6,-1.6],[-78.3,-3.4],[-78.9,-5],[-80.3,-3.4],[-80,-2.5],[-81,-1],[-80,0.8]]],
  ["Peru", [[-80.3,-3.4],[-78.9,-5],[-78.3,-3.4],[-75.6,-1.6],[-75.3,-0.1],[-72.9,-2.4],[-70,-2.5],[-70.8,-3.5],[-69.9,-4.2],[-73,-4.7],[-74,-7.3],[-72.9,-9.4],[-70.6,-9.5],[-70.6,-11],[-69.6,-11],[-68.9,-12.8],[-69,-15.6],[-69.5,-17.5],[-70.4,-18.3],[-76,-14],[-79,-8],[-81.3,-5.5]]],
  ["Bolivia", [[-69.6,-11],[-66.6,-9.9],[-65.4,-9.8],[-65.3,-11.7],[-62,-13],[-60.5,-13.7],[-60.2,-16.3],[-58.4,-16.3],[-57.5,-18],[-58,-20],[-62.6,-22],[-64.3,-22.8],[-66.3,-21.8],[-67.2,-22.8],[-68.5,-20],[-69.5,-17.5],[-69,-15.6],[-68.9,-12.8]]],
  ["Paraguay", [[-58,-20],[-57.9,-22.1],[-55.8,-22.3],[-55.4,-24],[-54.3,-24],[-54.6,-25.6],[-55,-27],[-58.6,-27.3],[-57.7,-25.4],[-60,-24],[-62.6,-22]]],
  ["Chile", [[-70.4,-18.3],[-69.5,-17.5],[-68.5,-20],[-67.2,-22.8],[-68.4,-24.5],[-70,-30],[-70.5,-35],[-71,-40],[-71.8,-44],[-72.5,-49],[-72,-52],[-68.4,-52.3],[-68.6,-54.9],[-71,-54.5],[-74.5,-52],[-75.5,-47],[-73.7,-42],[-73.5,-37],[-71.5,-31],[-70.4,-25]]],
  ["Argentina", [[-66.3,-21.8],[-64.3,-22.8],[-62.6,-22],[-60,-24],[-57.7,-25.4],[-58.6,-27.3],[-55,-27],[-53.7,-26.8],[-57.6,-30.2],[-58,-32],[-58.3,-34],[-57,-36.4],[-57.6,-38.1],[-62,-39],[-62.3,-41],[-65,-41],[-63.7,-42.5],[-65.3,-44.5],[-67.5,-46],[-65.8,-47.7],[-69,-51],[-68.4,-52.3],[-72,-52],[-72.5,-49],[-71.8,-44],[-71,-40],[-70.5,-35],[-70,-30],[-68.4,-24.5],[-67.2,-22.8]]],
  ["Argentina", [[-68.6,-52.7],[-65.3,-54.9],[-68.6,-54.9]]],
  ["Galapagos", [[-91.5,-0.3],[-90.8,-0.4],[-91.2,-1]]],
  ["Western Sahara", [[-13.2,27.67],[-8.67,27.67],[-8.67,26],[-12,26],[-12,23.4],[-13,23],[-13,21.33],[-16.9,21.33],[-16.9,21.9],[-16,23.7],[-14.9,25],[-14.4,26.2]]],
  ["Guinea-Bissau", [[-16.7,12.3],[-13.7,12.7],[-13.7,11.7],[-15,11]]],
  ["CAR", [[14.5,5],[15.1,3.8],[16.1,2.2],[17,3.6],[18.6,3.5],[18.6,4.3],[19.5,5.1],[20.5,4.4],[22.9,4.8],[25.3,5.4],[27.4,5.1],[26.4,6.1],[25.3,7.5],[24.2,8.7],[23.5,8.7],[23,9.5],[23,10.7],[21.7,10.6],[20,9],[18.9,8.9],[17,7.6],[15.5,7.5],[14.6,6.2]]],
  ["Djibouti", [[42.4,12.5],[43.1,12.7],[43.3,11.8],[42.9,11],[41.8,11]]],
  ["Kenya", [[41,3.9],[42,4],[41,2.9],[41,-0.9],[41.6,-1.7],[40.2,-2.7],[39.2,-4.7],[37.7,-3.5],[34,-1],[34,0.2],[35,1.9],[34.5,3.6],[34,4.2],[35,5.4],[36,4.4],[38,3.6],[39.5,3.5]]],
  ["Mozambique", [[40.4,-10.4],[40.7,-14.8],[39,-17],[36.8,-18],[34.9,-19.8],[35.5,-24],[32.9,-25.9],[32.9,-26.9],[32,-26.8],[31.9,-25.9],[31.3,-22.4],[32.5,-21.3],[32.9,-19.5],[32.9,-16.7],[30.4,-15.6],[30.2,-14.8],[33.2,-14],[34.6,-15],[34.4,-16],[35.4,-17],[35.9,-15],[35,-14],[34.5,-13.5],[34.9,-11.6],[36.5,-11.7],[38.4,-11.3]]],
  ["Namibia", [[11.75,-17.3],[13.4,-17],[14.2,-17.4],[18.5,-17.4],[21.4,-17.9],[23.4,-17.6],[25.3,-17.8],[23.4,-18.4],[21,-18.3],[21,-22],[20,-22],[20,-28.4],[18.2,-28.9],[16.5,-28.6],[15,-26.5],[14.5,-22.9],[13,-20]]],
  ["Botswana", [[21,-18.3],[23.4,-18.4],[25.3,-17.8],[26.2,-19.5],[27.9,-21.8],[29.4,-22.2],[27,-23.7],[25.8,-25],[23,-25.3],[20.8,-26.8],[20,-24.7],[20,-22],[21,-22]]],
  ["South Africa", [[16.5,-28.6],[18.2,-28.9],[20,-28.4],[20,-24.7],[20.8,-26.8],[23,-25.3],[25.8,-25],[27,-23.7],[29.4,-22.2],[31.3,-22.4],[31.9,-25.9],[32,-26.8],[32.9,-26.9],[32.4,-28.6],[30.8,-30.8],[28,-33],[25.7,-34],[22,-34.1],[20,-34.8],[18.4,-34.2],[18.2,-32],[17,-29.5]]],
  ["Lesotho", [[27.1,-29.6],[28.6,-28.6],[29.4,-29.5],[28.1,-30.6]]],
  ["Eswatini", [[30.8,-26.3],[32,-25.9],[32.1,-27],[31,-27.2]]],
  ["Madagascar", [[49.3,-12],[50.5,-15.5],[47.2,-24.9],[45.2,-25.6],[43.6,-23.5],[44.4,-19.8],[44,-17],[46.3,-15.7],[48,-13.6]]],
  ["Mauritius", [[57.3,-20],[57.8,-20],[57.5,-20.5]]],
  ["Reunion", [[55.2,-21],[55.8,-21],[55.5,-21.4]]],
  ["Comoros", [[43.2,-11.4],[43.5,-11.4],[43.4,-11.9]]],
  ["Saudi Arabia", [[34.9,29.5],[36.1,29.2],[37.5,30],[38,30.5],[37,31.5],[39,32],[41,31.4],[44.7,29.2],[46.5,29.1],[48.4,28.5],[48.9,27.6],[50.2,26.6],[50.8,24.7],[51.6,24.1],[55.2,22.7],[55.7,22],[55,20],[52,19],[48.8,18.2],[47,17],[44.5,17.4],[43.2,17.3],[42.8,16.4],[42.3,17],[40.8,19.7],[39.1,21.5],[38.5,23.7],[37.2,25],[35.1,28]]],
  ["Oman", [[52,19],[55,20],[55.7,22],[55.2,22.7],[56.4,24.9],[56.8,24.2],[58.6,23.6],[59.8,22.5],[58.5,20.5],[57.8,19],[55.3,17.6],[53.1,16.6]]],
  ["UAE", [[51.6,24.1],[54,24.2],[56,26],[56.4,24.9],[55.2,22.7]]],
  ["Qatar", [[50.8,24.7],[51.2,26.1],[51.6,25],[51.6,24.1]]],
  ["Israel", [[34.3,31.3],[35.1,33.1],[35.8,33.3],[35.6,31.8],[35.5,31],[35,29.5]]],
  ["Turkey", [[26.2,39.5],[27.4,37],[30.5,36.5],[32.5,36],[36,36.7],[36.2,36.6],[38,36.8],[41.2,37.1],[42.4,37.2],[44.8,37.2],[44.4,38.4],[44.8,39.7],[43.6,40.1],[43.5,41.1],[41.5,41.5],[38,41],[35,42],[31.5,41.2],[29,41.1],[27,40.4]]],
  ["Turkey", [[26.3,41.7],[28,42],[29,41.2],[26.2,40.5]]],
  ["Cyprus", [[32.3,35],[34.5,35.6],[33.6,34.9],[32.9,34.6]]],
  ["India", [[77.8,35.5],[78.9,33.5],[78.7,31.2],[81.1,30],[80,28.8],[83.9,27.4],[88,26.4],[88.2,27.9],[88.8,27.1],[89.8,26.7],[92.1,26.9],[91.6,27.8],[94,28.5],[97.3,28.2],[95.2,26.5],[94.4,24.5],[93.2,22.5],[92.6,22],[92.2,24],[92.4,25],[89.8,25.3],[89.8,26],[88.5,26.4],[88.1,24.5],[88.9,22],[87,21.4],[85,19.5],[82.3,16.6],[80.2,15],[80.3,13],[79.9,10.3],[78.2,8.9],[77.5,8.1],[76.3,10],[74.8,13],[73.4,16.3],[72.8,20],[72.6,21.3],[70.9,20.8],[69,22.3],[70.3,23],[68.8,23.8],[71,24.4],[70,25],[70,28],[71,27.9],[74,30],[74.5,31],[75,32],[74,33]]],
  ["Sri Lanka", [[80,9.7],[81.8,7.5],[81,6.1],[80,6.2],[79.8,8]]],
  ["China", [[87.8,49.2],[90.7,47.6],[91,45.2],[96.3,42.8],[100,42.6],[105,41.6],[110,42.7],[112,45],[116,45.7],[119.8,46.7],[115.7,47.8],[116.7,49.8],[119,50],[120.5,53.3],[126,53],[127.5,49.8],[131,47.7],[135,48.4],[131,45],[130.7,42.3],[128,41.5],[124.4,40],[121.5,39],[122,40.7],[118,39],[119,37.3],[122.5,37],[119.3,35],[121.9,31],[120,26],[116,22.9],[110.5,21],[108,21.5],[106.7,22.5],[105.3,23],[102.1,22.4],[101.1,21.6],[99.5,22.9],[97.6,24],[98.7,25.9],[98.7,27.5],[97.3,28.2],[94,28.5],[91.6,27.8],[89.6,28.1],[88.2,27.9],[86,28],[83.5,29.2],[81.1,30],[78.7,31.2],[78.9,33.5],[77.8,35.5],[75.8,36.2],[74.9,37.2],[75,37.4],[73.6,39.4],[76,40.4],[80.2,42.2],[80,45],[82.3,45.5],[83,47.2],[85.7,47.2],[87.3,49.2]]],
  ["Hainan", [[108.7,19.4],[110.6,20.1],[110.5,18.8],[109.5,18.2]]],
  ["Taiwan", [[121,25],[121.9,25],[120.9,22],[120.1,23]]],
  ["North Korea", [[124.4,40],[128,41.5],[130.7,42.3],[129.7,41],[127.5,39.7],[128.4,38.6],[126.7,37.8],[125,38.2],[125.3,39.5]]],
  ["South Korea", [[126.7,37.8],[128.4,38.6],[129.4,37],[129.2,35.2],[126.4,34.4],[126.6,37]]],
  ["Japan", [[130.9,34],[135,35.6],[137,37.3],[139.5,38.3],[140,40],[141.4,41.4],[142,39.5],[141,37],[140.8,35.7],[137,34.6],[135.7,33.5],[132.5,34.2]]],
  ["Japan", [[140.2,41.5],[141.7,45.4],[145.3,43.6],[143,42]]],
  ["Japan", [[130,33.3],[131.7,33.5],[131,31.2],[130.2,31.3]]],
  ["Japan", [[132.5,33.8],[134.5,34.2],[134,33.4],[133,32.8]]],
  ["Vietnam", [[102.1,22.4],[105.3,23],[106.7,22.5],[108,21.5],[105.9,19.3],[107.2,16.9],[109.2,13.4],[109,11.5],[106.8,10.4],[105,8.7],[104.5,10.5],[106.6,11.7],[107.6,14.7],[107.5,15.4],[105.6,18.5],[104,19.5],[104.7,20.5],[103,20.7]]],
  ["Malaysia", [[100.1,6.5],[101,5.7],[101.8,6.5],[102.2,6.2],[103.5,4.5],[104.2,1.4],[103.4,1.4],[101.3,2.9],[100.4,5]]],
  ["Malaysia", [[109,1.5],[110,1.7],[112,1.4],[114,1.4],[115,2.7],[115.5,4],[117.6,4.2],[119,5.2],[117,7],[116,6],[113.9,4.5],[111.4,2.7],[111,1.6]]],
  ["Indonesia", [[109,1.5],[110,1.7],[112,1.4],[114,1.4],[115,2.7],[115.5,4],[117.6,4.2],[118,2.3],[117.5,0.8],[116.5,-1.5],[116,-3.9],[114.5,-4],[111.7,-3.4],[110,-1.5],[109,0]]],
  ["Indonesia", [[95.3,5.6],[97.9,5],[100.5,2],[103.5,-0.7],[106,-3],[105.8,-5.8],[104.5,-5.8],[101,-2.7],[98.7,1.7]]],
  ["Indonesia", [[105.2,-6.8],[108.5,-6.5],[111,-6.5],[114.5,-7.8],[114.4,-8.7],[110,-8],[106.5,-7.4]]],
  ["Indonesia", [[116,-8.4],[119,-8.4],[119,-9],[116.7,-9]]],
  ["Indonesia", [[119.8,-8.5],[123,-8.3],[122.8,-8.9],[120,-8.9]]],
  ["Indonesia", [[123.6,-10.2],[127.2,-8.4],[125,-9.8]]],
  ["Indonesia", [[119.3,-5.6],[120.4,-5.6],[120.3,-3],[121,-2.7],[122.8,-5],[123,-4],[121.5,-1.9],[123.3,-0.9],[121.2,-0.9],[120,0.7],[125,1.5],[123.7,0.4],[119.7,0],[118.8,-2.7]]],
  ["Indonesia", [[127.5,2],[128.5,1.5],[128,-0.7],[127.7,0.5]]],
  ["Indonesia", [[128,-3.2],[130.8,-3.2],[129.5,-3.5]]],
  ["Indonesia", [[131,-0.8],[134,-0.8],[135,-3.3],[137.5,-1.6],[141,-2.6],[141,-9.1],[139,-8],[137.7,-8.4],[138,-5.5],[133,-4],[132.8,-2.8],[134,-2.3],[132.2,-2.2]]],
  ["Papua New Guinea", [[141,-2.6],[145,-4.3],[147.5,-6],[146.9,-6.8],[150.7,-10.3],[147.5,-10],[146,-8.2],[143.4,-8],[143,-9.2],[141,-9.1]]],
  ["Papua New Guinea", [[148.5,-5.6],[150.5,-5.5],[152,-4.2],[152.2,-5],[150,-6.3]]],
  ["Solomon Is.", [[159,-8],[160.8,-9],[160,-9.5]]],
  ["Philippines", [[120.5,18.5],[122.2,18.5],[122,16],[124,13],[122,13.8],[120.6,14.5],[119.9,16.3]]],
  ["Philippines", [[122,7],[123.5,8.6],[125.5,9.8],[126.5,7],[125.4,5.7],[124,6.7]]],
  ["Philippines", [[124.5,12.5],[125.7,11.2],[125,10.2],[124.4,11]]],
  ["Philippines", [[122,11.8],[123.3,11.3],[123.2,9.2],[122.5,9.7]]],
  ["Philippines", [[117.2,8.4],[119.5,11.3],[119.2,10],[117.6,8.2]]],
  ["Australia", [[113.7,-22.5],[114.2,-26],[115,-34.3],[118,-35],[123.5,-33.9],[129,-31.6],[131,-31.5],[134,-32.5],[135.7,-34.8],[137.8,-32.8],[137.5,-35.1],[140,-37.8],[143.5,-38.8],[146.4,-39],[150,-37.5],[151.3,-33.8],[153.5,-28.5],[153,-25],[149,-21],[146.3,-19],[145.3,-15],[143.5,-14],[142.5,-10.8],[141.7,-13],[141,-16.5],[139.5,-17.5],[135.5,-15],[136.7,-12.2],[132.6,-11.4],[130,-13],[129,-15],[126,-14],[122.2,-18],[119,-20],[116,-21]]],
  ["Tasmania", [[144.7,-40.7],[148.3,-40.9],[148,-43],[146.5,-43.6],[145.3,-42.5]]],
  ["New Zealand", [[172.7,-34.4],[175.7,-36.7],[178.5,-37.7],[176.9,-40],[175.3,-41.6],[174.8,-39.5],[174,-39],[174.7,-37.5]]],
  ["New Zealand", [[172.7,-40.5],[174.3,-41.7],[172.8,-43.8],[170.7,-46],[168.4,-46.6],[166.5,-45.8],[170.5,-43]]],
  ["New Caledonia", [[164,-20.2],[167,-22.3],[166.3,-22.3]]],
  ["Vanuatu", [[167,-15],[167.8,-16],[167.2,-16]]],
  ["Norway", [[5,62],[5.5,59],[7.5,58],[10.7,59.1],[11.8,59],[12.3,60.5],[12.2,61.5],[14,64.4],[15,66],[18,68.5],[20.5,69],[25,68.8],[29,69.8],[31,70.3],[25.7,71.1],[19,70],[14,67.5],[10,63.8]]],
  ["Svalbard", [[14,77.5],[22,78.3],[25,80],[17,80]]],
  ["Sweden", [[11.2,58.5],[12.8,56],[14.3,55.5],[16.5,56.8],[18.8,59.8],[17.2,60.7],[17.5,62.5],[21.3,64.5],[24,65.8],[23.7,67.9],[20.5,69],[18,68.5],[15,66],[14,64.4],[12.2,61.5],[12.3,60.5],[11.8,59]]],
  ["Finland", [[24,65.8],[25,65],[21.5,63.2],[21.5,61],[23,59.9],[27.8,60.5],[31.5,62.9],[29.5,64.9],[29.5,67],[28.5,69],[29,69.8],[25,68.8],[20.5,69],[23.7,67.9]]],
  ["Denmark", [[8.1,55.5],[8.2,57],[10.6,57.7],[10.5,55.9],[9.8,54.9],[8.7,54.9]]],
  ["UK", [[-5.6,50.1],[1.3,51.2],[1.7,52.7],[0,53.5],[-1.6,55.5],[-2,57.5],[-3.2,58.6],[-5,58.6],[-6.2,56.7],[-3.2,54.9],[-3,53.4],[-4.5,53.2],[-5.2,51.8],[-3,51.4]]],
  ["Ireland", [[-10,51.6],[-6.2,52.2],[-6,54],[-6.2,55.2],[-8.2,55.2],[-10,54.2]]],
  ["France", [[-1.8,43.4],[3.1,42.5],[4.5,43.4],[7.5,43.8],[6.8,45.9],[6,46.3],[7.6,47.6],[8.2,49],[6.1,49.5],[4.2,50.2],[2.5,51.1],[1.5,50],[-1.5,49.7],[-1.5,48.7],[-4.7,48.4],[-1.2,46]]],
  ["Spain", [[-9.3,43.1],[-1.8,43.4],[3.1,42.5],[0.5,40.5],[-0.3,39],[-2,36.8],[-5.5,36],[-7.4,37.2],[-7,39.7],[-6.5,41.9],[-8.8,41.9]]],
  ["Portugal", [[-8.8,41.9],[-6.5,41.9],[-7,39.7],[-7.4,37.2],[-9,37],[-9.5,38.8]]],
  ["Belgium", [[2.5,51.1],[4.2,51.4],[6,50.8],[6.1,49.5],[4.2,50.2]]],
  ["Netherlands", [[4.2,51.4],[4.8,53],[7.1,53.3],[6,50.8]]],
  ["Germany", [[6,50.8],[7.1,53.3],[8.7,54],[8.7,54.9],[9.8,54.9],[11,54],[14.2,53.9],[14.7,51],[12.2,50.2],[13.8,48.7],[13,47.5],[9.6,47.5],[7.6,47.6],[8.2,49],[6.1,49.5]]],
  ["Poland", [[14.2,53.9],[19,54.4],[23,54.3],[23.8,52.7],[24,50.7],[22.5,49.1],[18.8,49.6],[14.7,51]]],
  ["Czechia", [[12.2,50.2],[14.7,51],[18.8,49.6],[17,48.7],[13.8,48.7]]],
  ["Slovakia", [[17,48.7],[18.8,49.6],[22.5,49.1],[22.1,48.4],[19,48]]],
  ["Austria", [[9.6,47.5],[13,47.5],[13.8,48.7],[17,48.7],[16.3,46.8],[13.6,46.5],[12.3,46.7],[10.4,46.9]]],
  ["Switzerland", [[6,46.3],[7.6,47.6],[9.6,47.5],[10.4,46.9],[8.5,46],[6.8,45.9]]],
  ["Italy", [[6.8,45.9],[8.5,46],[10.4,46.9],[12.3,46.7],[13.6,46.5],[13.7,45.5],[12.3,44.5],[13.7,43.5],[16,41.9],[18.5,40.2],[16.9,40.4],[17.1,39],[15.7,37.9],[15.6,40],[12.3,41.8],[10.5,43],[8.8,44.4],[7.5,43.8]]],
  ["Italy", [[12.5,38],[15.6,38.2],[15.1,36.7]]],
  ["Italy", [[8.2,40.9],[9.8,41],[9.5,39.1],[8.5,39]]],
  ["Corsica", [[8.6,42.3],[9.4,43],[9.4,41.6]]],
  ["Slovenia", [[13.6,46.5],[16.3,46.8],[15.5,45.8],[13.7,45.5]]],
  ["Croatia", [[13.6,45],[13.7,45.5],[15.5,45.8],[16.3,46.8],[19,45.9],[19,44.9],[16,45.2],[15.8,44.5],[18.5,42.4],[15,44.3],[14.5,45.2]]],
  ["Hungary", [[16.3,46.8],[17,48],[19,48],[22.1,48.4],[22.1,48],[20.7,46.2],[19,45.9]]],
  ["Serbia", [[19,45.9],[20.7,46.2],[22.5,44.2],[22.4,42.3],[21.7,42.6],[20.6,43.2],[20.3,42.8],[19.5,43.5],[19,44.9]]],
  ["Greece", [[20,39.7],[21,40.6],[21,40.9],[23,41.3],[26.3,41.7],[26,40.8],[23,40.3],[23.5,38.5],[22.8,36.5],[21.5,37],[21,38.5]]],
  ["Crete", [[23.6,35.6],[26.3,35.3],[24.8,34.9]]],
  ["Bulgaria", [[22.4,42.3],[22.5,44.2],[25,43.7],[28.6,43.7],[27.7,42.5],[28,42],[26.3,41.7],[23,41.3]]],
  ["Romania", [[20.7,46.2],[22.1,48],[24.9,47.7],[26.6,48.3],[28.2,45.5],[29.7,45.2],[28.6,43.7],[25,43.7],[22.5,44.2]]],
  ["Ukraine", [[22.1,48.4],[22.5,49.1],[24,50.7],[24,51.6],[31,51.5],[31,52.2],[34,52.3],[35.5,50.4],[40,49.6],[38.2,47],[35,46.2],[36.5,45.3],[33.5,44.5],[32.5,45.5],[33,46.3],[30.7,46.4],[29.7,45.2],[28.2,45.5],[30,46.4],[28.2,48.1],[26.6,48.3],[24.9,47.7],[22.1,48]]],
  ["Lithuania", [[21.2,55.3],[21,56.3],[25,56.3],[26.6,55.7],[26,55.7],[23.2,54],[22.8,54.4]]],
  ["Latvia", [[21,56.3],[21,57.5],[24.3,57.9],[27.5,57.6],[28.2,56],[26.6,55.7],[25,56.3]]],
  ["Estonia", [[23.5,59.2],[28,59.4],[27.5,57.6],[24.3,57.9]]]
];

var lakes = [
  [[-92,46.7],[-88,48.9],[-85,48],[-84.7,46.6],[-87,46.5]],
  [[-87.8,42],[-86.3,42],[-85.3,45.7],[-87.2,45.7]],
  [[-84.5,46],[-81,46],[-80,44.6],[-81.7,43.2],[-83.5,44]],
  [[-83.3,41.6],[-79,42.8],[-79.2,42.9],[-82.7,42.4]],
  [[-79.7,43.3],[-76.3,43.5],[-76.3,44.2],[-79.3,43.8]],
  [[-71.9,10],[-71.3,10],[-71.3,9.2],[-71.8,9.2]]
];

var svgWidth = 1820;
var svgHeight = 1247;

// d3 wants rings wound so the area is the small side
function toPolygon(ring) {
  var closed = ring.concat([ring[0]]);
  var shape = { type: "Polygon", coordinates: [closed] };
  if (d3.geoArea(shape) > 2 * Math.PI) {
    shape.coordinates = [closed.slice().reverse()];
  }
  return shape;
}

function toFeatures(rows, status) {
  return rows.map(function(row) {
    return { type: "Feature", properties: { name: row[0], status: status }, geometry: toPolygon(row[1]) };
  });
}

var svg = d3.select("#map")
  .append("svg")
  .attr("width", svgWidth)
  .attr("height", svgHeight);

// title block
var titleLines = ["93 countries, most commonly in Africa, face a new", "immigration ban under Trump's order"];

svg.selectAll(".title")
  .data(titleLines)
  .enter()
  .append("text")
  .attr("class", "title")
  .attr("x", 10)
  .attr("y", (d, i) => 69 + i * 75)
  .attr("font-size", 66)
  .attr("font-weight", 700)
  .attr("fill", "#000")
  .text(d => d);

svg.append("text")
  .attr("x", 10)
  .attr("y", 229)
  .attr("font-size", 42)
  .attr("fill", "#222")
  .text("Immigrant visa suspension");

// legend
var color = d3.scaleOrdinal().domain(statusKeys).range(statusColors);
var legendX = [10, 253, 496, 715];

var legend = svg.selectAll(".legend")
  .data(statusKeys)
  .enter()
  .append("g")
  .attr("class", "legend")
  .attr("transform", (d, i) => `translate(${legendX[i]}, 277)`);

legend.append("rect")
  .attr("width", 43)
  .attr("height", 43)
  .attr("fill", d => color(d));

legend.append("text")
  .attr("x", 51)
  .attr("y", 34)
  .attr("font-size", 36)
  .attr("fill", "#222")
  .text(d => d);

// map
var projection = d3.geoNaturalEarth1()
  .scale(332.7)
  .translate([910, 814])
  .precision(0);

var path = d3.geoPath(projection);

var features = toFeatures(shapesNA, "NA")
  .concat(toFeatures(shapesDec16, "16-Dec-25"))
  .concat(toFeatures(shapesJan21, "21-Jan-26"))
  .concat(toFeatures(shapesJun4, "4-Jun-25"));

// tiny islands would vanish under the white border, so they go without one
svg.append("g")
  .selectAll("path")
  .data(features)
  .enter()
  .append("path")
  .attr("d", path)
  .attr("fill", d => color(d.properties.status))
  .attr("stroke", d => path.area(d) < 30 ? "none" : "#fff")
  .attr("stroke-width", 1)
  .attr("stroke-linejoin", "round");

svg.append("g")
  .selectAll("path")
  .data(lakes.map(toPolygon))
  .enter()
  .append("path")
  .attr("d", path)
  .attr("fill", "#fff");

// footer
svg.append("text")
  .attr("x", 10)
  .attr("y", 1227)
  .attr("font-size", 33)
  .attr("fill", "#888")
  .text("Source: Fox News");
</script>
</body>
</html>
